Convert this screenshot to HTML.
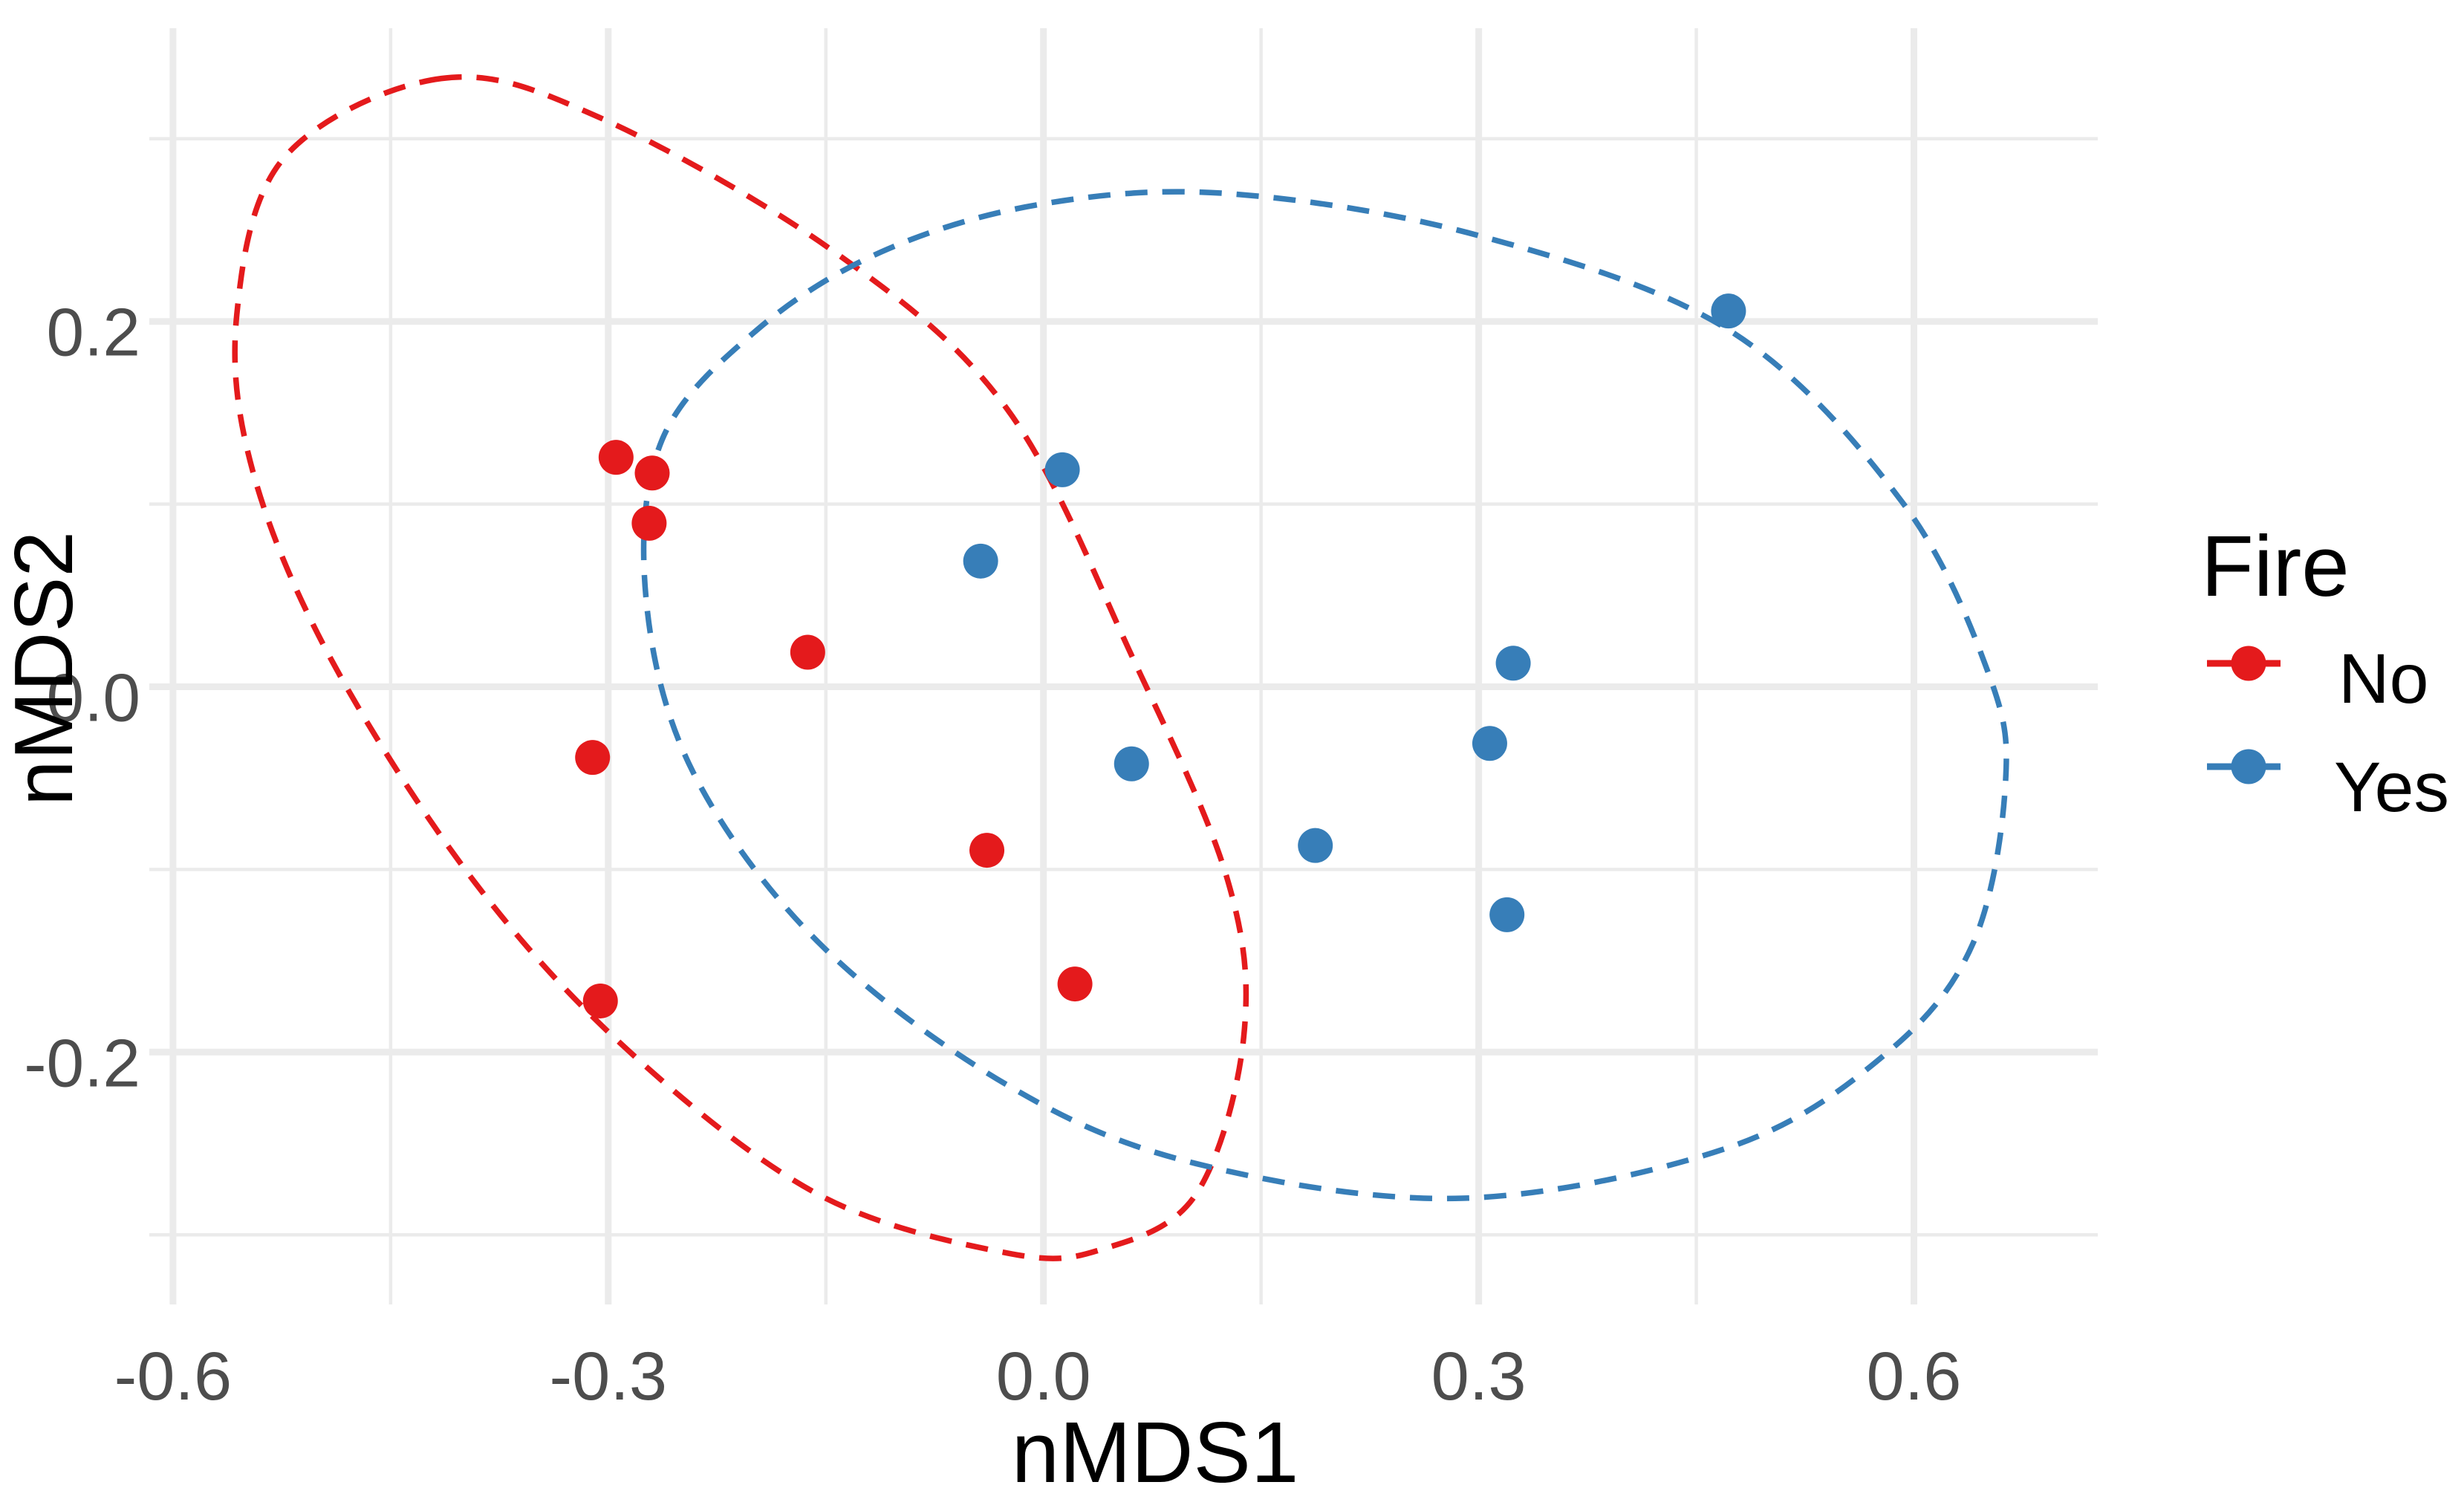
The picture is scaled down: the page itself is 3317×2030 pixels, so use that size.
<!DOCTYPE html>
<html><head><meta charset="utf-8"><style>
html,body{margin:0;padding:0;background:#fff;}
svg{display:block;font-family:"Liberation Sans",Arial,sans-serif;}
</style></head><body>
<svg id="chart" width="3317" height="2030" viewBox="0 0 3317 2030" xmlns="http://www.w3.org/2000/svg">
<g id="grid"></g>
<g id="ellipses"></g>
<g id="points"></g>
<g id="axes"></g>
<text x="1555" y="1995" font-size="116" text-anchor="middle" fill="#000">nMDS1</text>
<text x="0" y="0" font-size="111" text-anchor="middle" fill="#000" transform="translate(97,900) rotate(-90)">nMDS2</text>
<g>
<text x="2963" y="802" font-size="116" fill="#000">Fire</text>
<g>
<line x1="2971" y1="893" x2="3070" y2="893" stroke="#E41A1C" stroke-width="9"/>
<circle cx="3027" cy="893" r="23.5" fill="#E41A1C"/>
<text x="3148" y="946" font-size="95" fill="#000">No</text>
</g>
<g>
<line x1="2971" y1="1032" x2="3070" y2="1032" stroke="#377EB8" stroke-width="9"/>
<circle cx="3027" cy="1032" r="23.5" fill="#377EB8"/>
<text x="3142" y="1092" font-size="95" fill="#000">Yes</text>
</g>
</g>
</svg>
<script>
const xTicks=[-0.6,-0.3,0.0,0.3,0.6];
const xTickLabels=["-0.6","-0.3","0.0","0.3","0.6"];
const yTicks=[-0.2,0.0,0.2];
const yTickLabels=["-0.2","0.0","0.2"];
const xMinor=[-0.45,-0.15,0.15,0.45];
const yMinor=[-0.3,-0.1,0.1,0.3];
const noX=[-0.2946,-0.2697,-0.2718,-0.1625,-0.3108,-0.039,-0.3054,0.0217];
const noY=[0.1256,0.117,0.0895,0.0189,-0.0387,-0.0895,-0.172,-0.1627];
const yesX=[0.4722,0.013,-0.0433,0.3238,0.3076,0.0607,0.1874,0.3195];
const yesY=[0.2057,0.1188,0.0688,0.0129,-0.031,-0.0422,-0.0869,-0.1248];
const noEllX=[-0.415,-0.523,-0.556,-0.545,-0.491,-0.393,-0.285,-0.155,-0.025,0.04,0.105,0.138,0.127,0.062,-0.025,-0.144,-0.307];
const noEllY=[0.333,0.290,0.204,0.118,0.015,-0.106,-0.2,-0.278,-0.31,-0.308,-0.278,-0.192,-0.106,0.015,0.152,0.238,0.312];
const yesEllX=[-0.274,-0.263,-0.198,-0.112,-0.003,0.127,0.3,0.473,0.592,0.652,0.663,0.641,0.582,0.473,0.289,0.105,-0.025,-0.155,-0.242];
const yesEllY=[0.049,0.135,0.195,0.238,0.264,0.27,0.247,0.195,0.101,0.006,-0.054,-0.14,-0.2,-0.252,-0.28,-0.261,-0.218,-0.14,-0.046];

const NS='http://www.w3.org/2000/svg';
const X=v=>1404.7+v*1953;
const Y=v=>924.5-v*2459;
const L=201,R=2824,T=38,B=1756;
function mk(tag,attrs,parent){const e=document.createElementNS(NS,tag);for(const k in attrs)e.setAttribute(k,attrs[k]);parent.appendChild(e);return e;}
const grid=document.getElementById('grid');
xMinor.forEach(v=>{const e=mk('line',{x1:X(v),x2:X(v),y1:T,y2:B,stroke:'#EBEBEB','stroke-width':4.5},grid);

});
yMinor.forEach(v=>{const e=mk('line',{x1:L,x2:R,y1:Y(v),y2:Y(v),stroke:'#EBEBEB','stroke-width':4.5},grid);

});
xTicks.forEach(v=>{const e=mk('line',{x1:X(v),x2:X(v),y1:T,y2:B,stroke:'#EBEBEB','stroke-width':9},grid);

});
yTicks.forEach(v=>{const e=mk('line',{x1:L,x2:R,y1:Y(v),y2:Y(v),stroke:'#EBEBEB','stroke-width':9},grid);

});
const axes=document.getElementById('axes');
xTicks.forEach((v,i)=>{const t=mk('text',{x:X(v),y:1884,'font-size':92,'text-anchor':'middle',fill:'#4D4D4D'},axes);t.textContent=xTickLabels[i];

});
yTicks.forEach((v,i)=>{const t=mk('text',{x:189,y:Y(v)+46,'font-size':91,'text-anchor':'end',fill:'#4D4D4D'},axes);t.textContent=yTickLabels[i];

});
function closedPath(xs,ys){
  const p=xs.map((x,i)=>[X(x),Y(ys[i])]);const n=p.length;
  let d='M'+p[0][0]+','+p[0][1];
  for(let i=0;i<n;i++){const p0=p[(i-1+n)%n],p1=p[i],p2=p[(i+1)%n],p3=p[(i+2)%n];
    const c1=[p1[0]+(p2[0]-p0[0])/6,p1[1]+(p2[1]-p0[1])/6];
    const c2=[p2[0]-(p3[0]-p1[0])/6,p2[1]-(p3[1]-p1[1])/6];
    d+=' C'+c1+' '+c2+' '+p2;}
  return d+'Z';}
const ell=document.getElementById('ellipses');
const e1=mk('path',{d:closedPath(noEllX,noEllY),fill:'none',stroke:'#E41A1C','stroke-width':7.5,'stroke-dasharray':'30 20'},ell);


const e2=mk('path',{d:closedPath(yesEllX,yesEllY),fill:'none',stroke:'#377EB8','stroke-width':7.5,'stroke-dasharray':'30 20'},ell);


const pts=document.getElementById('points');
noX.forEach((x,i)=>{const c=mk('circle',{cx:X(x),cy:Y(noY[i]),r:23.5,fill:'#E41A1C'},pts);

});
yesX.forEach((x,i)=>{const c=mk('circle',{cx:X(x),cy:Y(yesY[i]),r:23.5,fill:'#377EB8'},pts);

});
</script>
</body></html>
